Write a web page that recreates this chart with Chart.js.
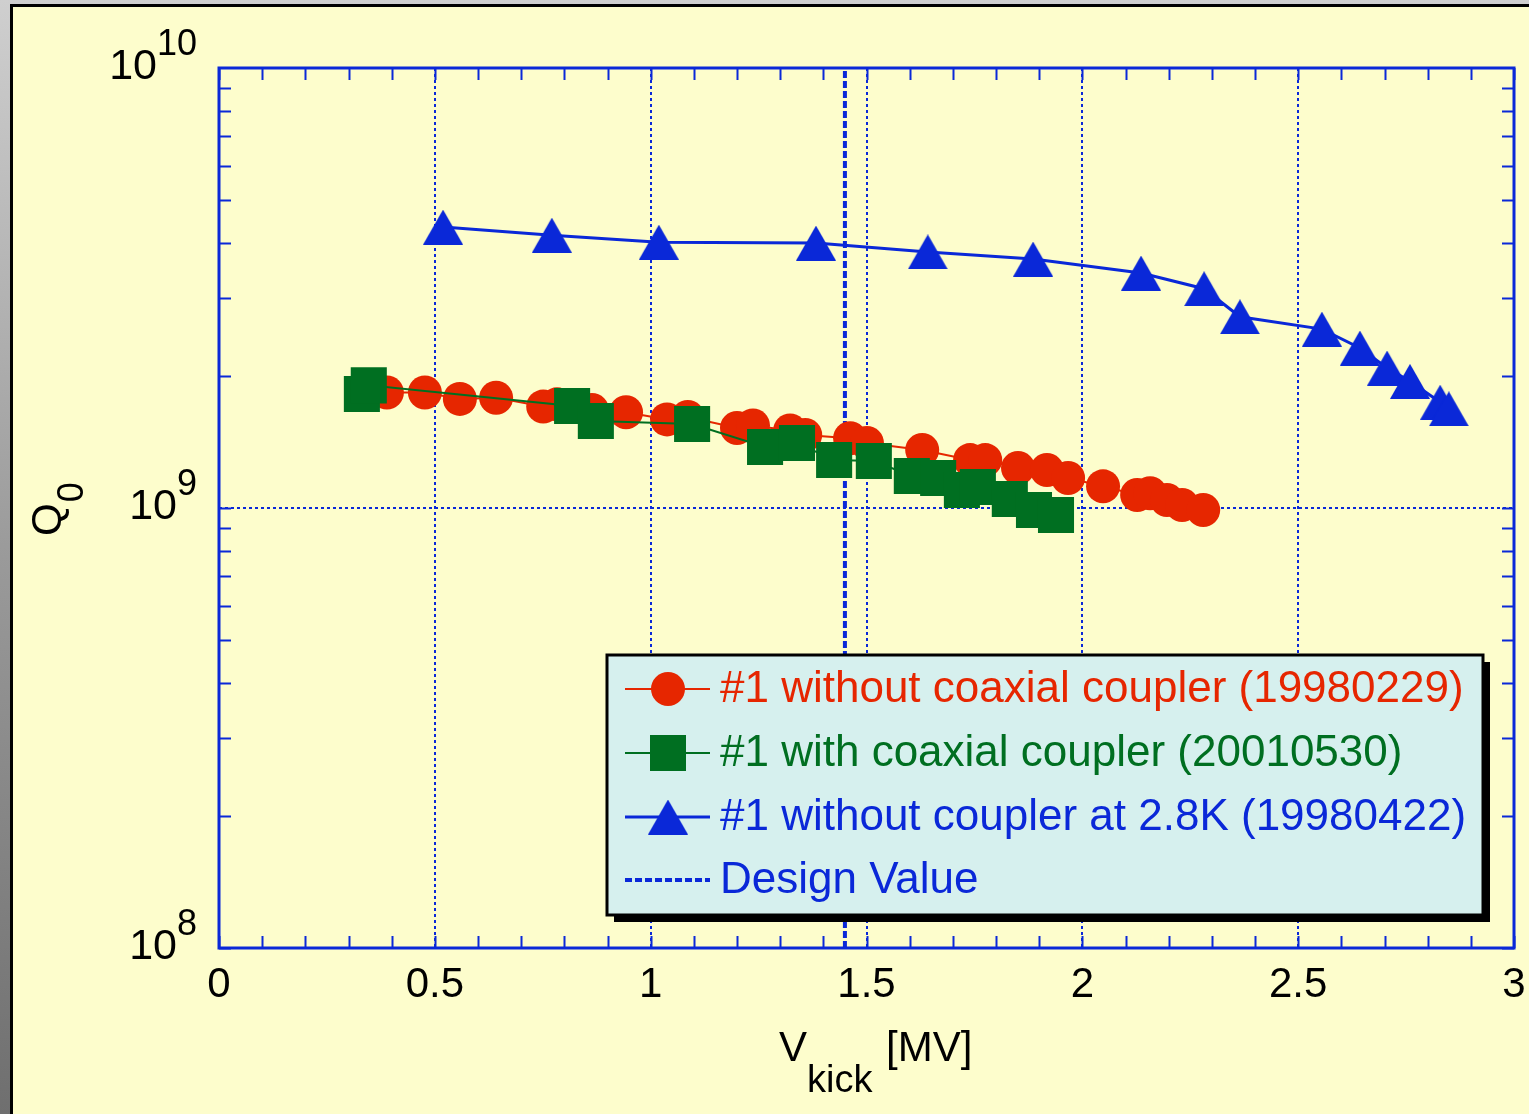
<!DOCTYPE html>
<html>
<head>
<meta charset="utf-8">
<script src="https://cdn.jsdelivr.net/npm/chart.js@4.4.1/dist/chart.umd.min.js"></script>
<style>
  html, body { margin: 0; padding: 0; background: #999; overflow: hidden; }
  canvas { display: block; }
</style>
</head>
<body>
<canvas id="c" width="1529" height="1114"></canvas>
<script>
// values (V_kick in MV, Q0)
const vWithout = [0.389, 0.477, 0.558, 0.642, 0.751, 0.783, 0.864, 0.943, 1.038, 1.086, 1.200, 1.237, 1.323, 1.358,
  1.462, 1.501, 1.629, 1.740, 1.775, 1.851, 1.918, 1.967, 2.048, 2.127, 2.157, 2.196, 2.231, 2.280];
const qWithout = [1.83e9, 1.83e9, 1.77e9, 1.78e9, 1.70e9, 1.72e9, 1.67e9, 1.65e9, 1.59e9, 1.61e9, 1.52e9, 1.54e9, 1.50e9, 1.465e9,
  1.44e9, 1.405e9, 1.355e9, 1.285e9, 1.285e9, 1.233e9, 1.22e9, 1.17e9, 1.12e9, 1.07e9, 1.08e9, 1.043e9, 1.016e9, 0.99e9];

const vWith = [0.331, 0.347, 0.818, 0.873, 1.096, 1.265, 1.339, 1.425, 1.517, 1.605, 1.666, 1.721, 1.758, 1.832, 1.888, 1.939];
const qWith = [1.816e9, 1.90e9, 1.705e9, 1.576e9, 1.552e9, 1.376e9, 1.405e9, 1.285e9, 1.279e9, 1.182e9, 1.17e9, 1.099e9, 1.116e9,
  1.048e9, 0.99e9, 0.964e9];

const v28K = [0.519, 0.771, 1.019, 1.383, 1.642, 1.886, 2.136, 2.282, 2.365, 2.555, 2.643, 2.706, 2.759, 2.829, 2.849];
const q28K = [4.35e9, 4.17e9, 4.02e9, 4.00e9, 3.82e9, 3.68e9, 3.42e9, 3.15e9, 2.72e9, 2.55e9, 2.31e9, 2.08e9, 1.94e9, 1.74e9, 1.68e9];

const designV = 1.45;

const xMajor = [0, 0.5, 1, 1.5, 2, 2.5, 3];
const yMajor = [1e8, 1e9, 1e10];

const seriesLabels = [
  '#1 without coaxial coupler (19980229)',
  '#1 with coaxial coupler (20010530)',
  '#1 without coupler at 2.8K (19980422)',
  'Design Value',
];

const RED = '#e62600', GREEN = '#006f21', BLUE = '#0a28d8';
const FONT = '"Liberation Sans", Arial, Helvetica, sans-serif';

const pts = (xs, ys) => xs.map((x, i) => ({ x, y: ys[i] }));

// triangle marker, centred on its bounding box like the original plot
function triangleMarker(color) {
  const c = document.createElement('canvas');
  c.width = 40; c.height = 35;
  const g = c.getContext('2d');
  g.fillStyle = color;
  g.beginPath();
  g.moveTo(20, 0); g.lineTo(40, 35); g.lineTo(0, 35); g.closePath();
  g.fill();
  return c;
}
const triImg = triangleMarker(BLUE);

// background panel, plot frame, minor ticks, labels and legend
const decor = {
  id: 'decor',
  beforeDraw(chart) {
    const { ctx, width, height } = chart;
    ctx.save();
    const gr = ctx.createLinearGradient(0, 0, 0, height);
    gr.addColorStop(0, '#cfcfcf');
    gr.addColorStop(0.5, '#9a9a9a');
    gr.addColorStop(1, '#6f6f6f');
    ctx.fillStyle = gr;
    ctx.fillRect(0, 0, width, height);
    ctx.fillStyle = '#fdfdcc';
    ctx.fillRect(11, 6, width - 11, height - 6);
    ctx.strokeStyle = '#000';
    ctx.lineWidth = 3;
    ctx.beginPath();
    ctx.moveTo(11.5, height); ctx.lineTo(11.5, 5.5); ctx.lineTo(width, 5.5);
    ctx.stroke();
    ctx.restore();
  },
  beforeDatasetsDraw(chart) {
    const { ctx, chartArea: a, scales: { x, y } } = chart;
    ctx.save();
    ctx.strokeStyle = BLUE;
    ctx.lineWidth = 2;
    ctx.beginPath();
    for (let i = 0; i <= 30; i++) {
      const px = Math.round(x.getPixelForValue(i / 10)) + 0.5;
      ctx.moveTo(px, a.bottom); ctx.lineTo(px, a.bottom - 12);
      ctx.moveTo(px, a.top); ctx.lineTo(px, a.top + 12);
    }
    [1e8, 1e9].forEach(d => {
      for (let m = 1; m <= 9; m++) {
        const py = Math.round(y.getPixelForValue(m * d)) + 0.5;
        ctx.moveTo(a.left, py); ctx.lineTo(a.left + 12, py);
        ctx.moveTo(a.right, py); ctx.lineTo(a.right - 12, py);
      }
    });
    ctx.stroke();
    ctx.lineWidth = 3;
    ctx.strokeRect(a.left, a.top, a.right - a.left, a.bottom - a.top);
    ctx.restore();
  },
  afterDraw(chart) {
    const { ctx, scales: { y } } = chart;
    ctx.save();
    ctx.fillStyle = '#000';
    ctx.textBaseline = 'alphabetic';

    // y tick labels as 10^n
    yMajor.forEach(v => {
      const py = y.getPixelForValue(v);
      const exp = String(Math.round(Math.log10(v)));
      ctx.font = '36px ' + FONT;
      const ew = ctx.measureText(exp).width;
      ctx.textAlign = 'right';
      ctx.fillText(exp, 197, py - 13);
      ctx.font = '43px ' + FONT;
      ctx.fillText('10', 197 - ew, py + 11);
    });

    // x title: V_kick [MV]
    ctx.textAlign = 'left';
    ctx.font = '42px ' + FONT;
    ctx.fillText('V', 779, 1061);
    ctx.fillText('[MV]', 886, 1061);
    ctx.font = '38px ' + FONT;
    ctx.fillText('kick', 807, 1092);

    // y title: Q_0 (rotated)
    ctx.translate(61, 536);
    ctx.rotate(-Math.PI / 2);
    ctx.font = '42px ' + FONT;
    ctx.fillText('Q', 0, 0);
    const qw = ctx.measureText('Q').width;
    ctx.font = '36px ' + FONT;
    ctx.fillText('0', qw + 1, 22);
    ctx.setTransform(1, 0, 0, 1, 0, 0);

    // legend box
    const bx = 607, by = 655, bw = 876, bh = 260;
    ctx.fillStyle = '#000';
    ctx.fillRect(bx + 7, by + 7, bw, bh);
    ctx.fillStyle = '#d6f0ee';
    ctx.fillRect(bx, by, bw, bh);
    ctx.strokeStyle = '#000';
    ctx.lineWidth = 3;
    ctx.strokeRect(bx, by, bw, bh);

    const rowY = [689, 753, 817, 880];
    const colors = [RED, GREEN, BLUE, BLUE];
    const mx = 668;
    rowY.forEach((ry, i) => {
      ctx.strokeStyle = colors[i];
      ctx.fillStyle = colors[i];
      if (i < 3) {
        ctx.lineWidth = i === 2 ? 3 : 2;
        ctx.setLineDash([]);
        ctx.beginPath(); ctx.moveTo(625, ry); ctx.lineTo(710, ry); ctx.stroke();
        if (i === 0) {
          ctx.beginPath(); ctx.arc(mx, ry, 17, 0, Math.PI * 2); ctx.fill();
        } else if (i === 1) {
          ctx.fillRect(mx - 18, ry - 18, 36, 36);
        } else {
          ctx.drawImage(triImg, mx - 20, ry - 17.5);
        }
      } else {
        ctx.lineWidth = 4;
        ctx.setLineDash([7, 3]);
        ctx.beginPath(); ctx.moveTo(625, ry); ctx.lineTo(710, ry); ctx.stroke();
        ctx.setLineDash([]);
      }
      ctx.font = '44px ' + FONT;
      ctx.textAlign = 'left';
      ctx.textBaseline = 'middle';
      ctx.fillText(seriesLabels[i], 720, ry + 1);
    });
    ctx.restore();
  },
};

new Chart(document.getElementById('c').getContext('2d'), {
  type: 'line',
  data: {
    datasets: [
      {
        label: seriesLabels[0], data: pts(vWithout, qWithout), order: 3,
        borderColor: RED, borderWidth: 2, backgroundColor: RED,
        pointStyle: 'circle', pointRadius: 17, pointBorderWidth: 0, pointBackgroundColor: RED,
      },
      {
        label: seriesLabels[1], data: pts(vWith, qWith), order: 2,
        borderColor: GREEN, borderWidth: 2, backgroundColor: GREEN,
        pointStyle: 'rect', pointRadius: 25.5, pointBorderWidth: 0, pointBackgroundColor: GREEN,
      },
      {
        label: seriesLabels[2], data: pts(v28K, q28K), order: 1,
        borderColor: BLUE, borderWidth: 3, backgroundColor: BLUE,
        pointStyle: triImg, pointRadius: 20, pointBorderWidth: 0,
      },
      {
        label: seriesLabels[3], data: [{ x: designV, y: 1e8 }, { x: designV, y: 1e10 }], order: 4,
        borderColor: BLUE, borderWidth: 4, borderDash: [7, 3], pointRadius: 0,
      },
    ],
  },
  options: {
    responsive: false,
    animation: false,
    events: [],
    // big markers would otherwise push the plot edges in (autoPadding)
    layout: { autoPadding: false, padding: { top: 68, right: 15, left: 0, bottom: 0 } },
    plugins: { legend: { display: false }, tooltip: { enabled: false } },
    scales: {
      x: {
        type: 'linear', min: 0, max: 3,
        afterBuildTicks: s => { s.ticks = xMajor.map(v => ({ value: v })); },
        afterFit: s => { s.height = 166; s.paddingLeft = 0; s.paddingRight = 0; },
        grid: {
          color: c => (c.tick && c.tick.value > 0 && c.tick.value < 3) ? BLUE : 'rgba(0,0,0,0)',
          lineWidth: 2, drawTicks: false,
        },
        border: { display: false, dash: [3, 3] },
        ticks: { color: '#000', font: { family: FONT, size: 42 }, padding: 12, maxRotation: 0, callback: v => String(v) },
      },
      y: {
        type: 'logarithmic', min: 1e8, max: 1e10,
        afterBuildTicks: s => { s.ticks = yMajor.map(v => ({ value: v })); },
        afterFit: s => { s.width = 219; s.paddingTop = 0; s.paddingBottom = 0; },
        grid: {
          color: c => (c.tick && c.tick.value === 1e9) ? BLUE : 'rgba(0,0,0,0)',
          lineWidth: 2, drawTicks: false,
        },
        border: { display: false, dash: [3, 3] },
        ticks: { display: false },
      },
    },
  },
  plugins: [decor],
});
</script>
</body>
</html>
